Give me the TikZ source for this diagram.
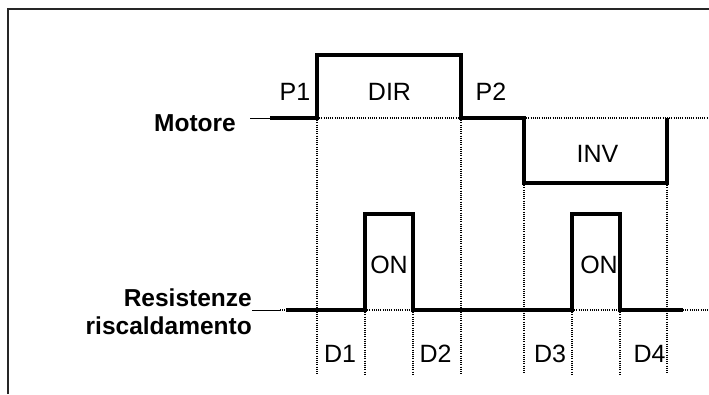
\documentclass[tikz,border=0pt]{standalone}
\usepackage{fontspec}
\setmainfont{Liberation Sans}
\tikzset{
  wave/.style={line width=3.5pt, line join=miter},
  guide/.style={line width=1.5pt, dash pattern=on 1pt off 1.2pt, black},
  lead/.style={line width=1pt},
  lbl/.style={font=\fontsize{25}{29}\selectfont, inner sep=0pt, anchor=base},
  blbl/.style={font=\fontsize{24.5}{28}\selectfont\bfseries, inner sep=0pt, anchor=base east},
  frame/.style={line width=2pt, black!85}
}
\begin{document}
\begin{tikzpicture}[x=1pt,y=-1pt]
\useasboundingbox (0,0) rectangle (709,394);
\draw[frame] (8,394) -- (8,9) -- (709,9);
% motor waveform points
\coordinate (ml) at (250,118);
\coordinate (m0) at (270,118);
\coordinate (m1) at (317,118);
\coordinate (m2) at (317,55);
\coordinate (m3) at (461,55);
\coordinate (m4) at (461,118);
\coordinate (m5) at (524,118);
\coordinate (m6) at (524,183);
\coordinate (m7) at (667,183);
\coordinate (m8) at (667,118);
\coordinate (me) at (709,118);
% heater waveform points
\coordinate (rl) at (252,310);
\coordinate (rd) at (280,310);
\coordinate (r0) at (286,310);
\coordinate (r1) at (365,310);
\coordinate (r2) at (365,214);
\coordinate (r3) at (413,214);
\coordinate (r4) at (413,310);
\coordinate (r5) at (572,310);
\coordinate (r6) at (572,214);
\coordinate (r7) at (620,214);
\coordinate (r8) at (620,310);
\coordinate (r9) at (683,310);
\coordinate (re) at (709,310);
% bottom ends of guides
\foreach \n/\x in {b1/317,b2/365,b3/413,b4/461,b5/524,b6/572,b7/620,b8/667}
  \coordinate (\n) at (\x,374);
% guides
\draw[guide] (m1) -- (m4);
\draw[guide] (m5) -- (me);
\draw[guide] (rd) -- (r0);
\draw[guide] (r1) -- (r4);
\draw[guide] (r5) -- (r8);
\draw[guide] (r9) -- (re);
\draw[guide] (m1) -- (b1);
\draw[guide] (m4) -- (b4);
\draw[guide] (m6) -- (b5);
\draw[guide] (m7) -- (b8);
\draw[guide] (r1) -- (b2);
\draw[guide] (r4) -- (b3);
\draw[guide] (r5) -- (b6);
\draw[guide] (r8) -- (b7);
% leads
\draw[lead] (ml) -- (m0);
\draw[lead] (rl) -- (rd);
% waves
\draw[wave] (m0) -- (m1) -- (m2) -- (m3) -- (m4) -- (m5) -- (m6) -- (m7) -- (m8);
\draw[wave] (r0) -- (r1) -- (r2) -- (r3) -- (r4) -- (r5) -- (r6) -- (r7) -- (r8) -- (r9);
% labels
\node[blbl] (mot) at (236,131) {Motore};
\node[blbl] (res1) at (252,306) {Resistenze};
\node[blbl] (res2) at (252,334) {riscaldamento};
\node[lbl] (p1) at (295,100) {P1};
\node[lbl] (dir) at (389.5,100) {DIR};
\node[lbl] (p2) at (491,100) {P2};
\node[lbl] (inv) at (597.5,162) {INV};
\node[lbl] (on1) at (389,273) {ON};
\node[lbl] (on2) at (599,273) {ON};
\node[lbl] (d1) at (340,362) {D1};
\node[lbl] (d2) at (435.5,362) {D2};
\node[lbl] (d3) at (550,362) {D3};
\node[lbl] (d4) at (649.5,362) {D4};
\end{tikzpicture}
\end{document}
